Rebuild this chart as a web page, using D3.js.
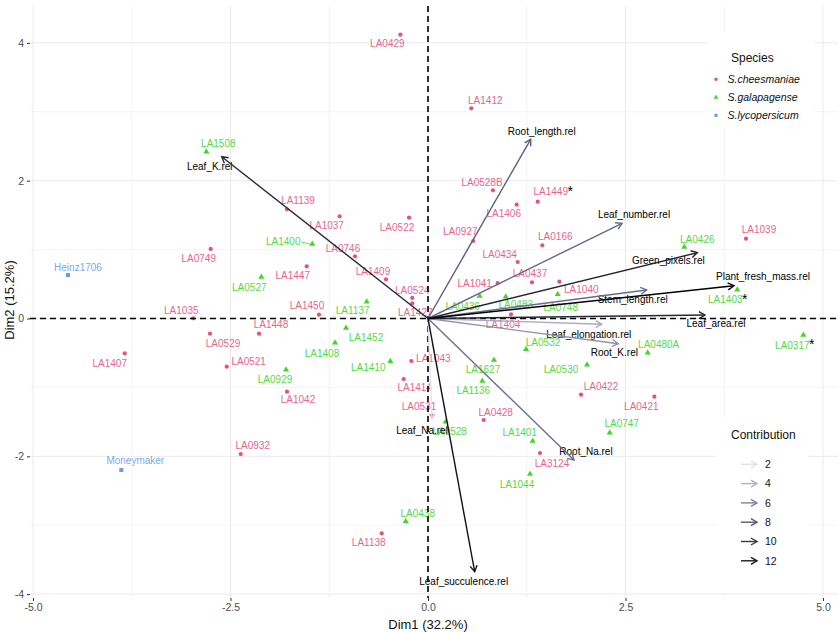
<!DOCTYPE html>
<html><head><meta charset="utf-8">
<script src="https://cdn.jsdelivr.net/npm/d3@7"></script>
<style>
html,body{margin:0;padding:0;background:#fff;}
svg text{font-family:"Liberation Sans",Arial,sans-serif;}
</style></head>
<body><svg id="chart" width="840" height="632"></svg>
<script>
// ---------- DATA ----------
const speciesNames = ["S.cheesmaniae","S.galapagense","S.lycopersicum"];
const xTicks = [-5, -2.5, 0, 2.5, 5];
const yTicks = [-4, -2, 0, 2, 4];
const xMinor = [-3.75, -1.25, 1.25, 3.75];
const yMinor = [-3, -1, 1, 3];
const contribBreaks = [2, 4, 6, 8, 10, 12];

const cheesNames = ["LA0429","LA1139","LA1037","LA0522","LA0749","LA0746","LA1447","LA1409","LA1450","LA1035","LA0524","LA1427","LA1412","LA0528B","LA1449","LA1406","LA0927","LA0166","LA0434","LA0437","LA1041","LA1040","LA1039","LA1404","LA0422","LA0421","LA0428","LA3124","LA0531","LA1414","LA1043","LA1407","LA0529","LA1448","LA0521","LA1042","LA0932","LA1138"];
const cheesDim1 = [-0.35,-1.785,-1.118,-0.24,-2.751,-0.924,-1.535,-0.532,-1.38,-2.971,-0.199,-0.199,0.548,0.823,1.389,1.123,0.573,1.447,1.135,1.316,0.882,1.662,4.025,1.051,1.937,2.865,0.705,1.418,0.051,-0.308,-0.211,-3.839,-2.759,-2.139,-2.548,-1.785,-2.371,-0.586];
const cheesDim2 = [4.12,1.585,1.483,1.463,1.009,0.903,0.758,0.569,0.055,0.003,0.298,0.221,3.051,1.861,1.695,1.652,1.125,1.062,0.82,0.525,0.515,0.534,1.158,0.061,-1.106,-1.135,-1.473,-1.952,-1.411,-0.878,-0.617,-0.505,-0.221,-0.221,-0.70,-1.062,-1.967,-3.118];

const galaNames = ["LA1508","LA1400","LA0527","LA1137","LA0426","LA1403","LA0436","LA0483","LA0748","LA0317","LA0480A","LA0532","LA0530","LA1627","LA1136","LA0747","LA1401","LA1044","LA0528","LA1410","LA0438","LA0929","LA1452","LA1408"];
const galaDim1 = [-2.806,-1.465,-2.11,-0.776,3.244,3.915,0.654,0.984,1.642,4.751,2.781,1.241,2.013,0.835,0.687,2.3,1.325,1.291,0.224,-0.477,-0.282,-1.797,-1.038,-1.177];
const galaDim2 = [2.421,1.081,0.602,0.244,1.038,0.418,0.327,0.316,0.351,-0.239,-0.496,-0.447,-0.671,-0.602,-0.907,-1.657,-1.778,-2.257,-1.498,-0.621,-2.943,-0.743,-0.138,-0.351];

const lycoNames = ["Heinz1706","Moneymaker"];
const lycoDim1 = [-4.557,-3.882];
const lycoDim2 = [0.631,-2.199];

const starred = ["LA1449","LA1403","LA0317"];

const varNames = ["Leaf_K.rel","Root_length.rel","Leaf_number.rel","Green_pixels.rel","Plant_fresh_mass.rel","Stem_length.rel","Leaf_area.rel","Leaf_elongation.rel","Root_K.rel","Root_Na.rel","Leaf_succulence.rel","Leaf_Na.rel"];
const varDim1 = [-2.611,1.3,2.456,3.409,3.873,2.768,3.506,2.199,2.409,1.848,0.591,0.051];
const varDim2 = [2.348,2.601,1.382,0.955,0.476,0.414,0.051,-0.084,-0.366,-2.054,-3.675,-1.463];
const varContrib = [11.1,7.6,7.15,11.3,13.7,7.05,11.1,4.36,5.35,6.88,12.5,1.93];

// ---------- LAYOUT (label placement, pixels relative to mark) ----------
const labelNudge = {
 LA0429:[-13,9],LA1139:[11,-9],LA1037:[-13,9],LA0522:[-12,10],LA0749:[-12,9],LA0746:[-12,-8],LA1447:[-14,9],LA1409:[-13,-8],LA1450:[-12,-9],LA1035:[-12,-8],LA0524:[0,-8],LA1427:[3,9],LA1412:[14,-8],LA0528B:[-11,-8],LA1449:[13,-10],LA1406:[-13,9],LA0927:[-13,-10],LA0166:[13,-9],LA0434:[-18,-8],LA0437:[-2,-9],LA1041:[-23,0],LA1040:[22,8],LA1039:[13,-9],LA1404:[-8,10],LA0422:[20,-8],LA0421:[-13,10],LA0428:[12,-8],LA3124:[12,10],LA0531:[-13,-9],LA1414:[11,8],LA1043:[22,-3],LA1407:[-15,10],LA0529:[13,10],LA1448:[12,-9],LA0521:[22,-5],LA1042:[11,8],LA0932:[12,-9],LA1138:[-13,9],
 LA1508:[12,-8],LA1400:[-29,-3],LA0527:[-12,10],LA1137:[-14,9],LA0426:[13,-8],LA1403:[-12,10],LA0436:[-17,10],LA0483:[10,8],LA0748:[3,13],LA0317:[-11,10],LA0480A:[11,-8],LA0532:[17,-7],LA0530:[-26,5],LA1627:[-11,9],LA1136:[-9,9],LA0747:[12,-9],LA1401:[-13,-9],LA1044:[-13,10],LA0528:[4,10],LA1410:[-22,6],LA0438:[12,-8],LA0929:[-11,10],LA1452:[20,9],LA1408:[-13,11],
 Heinz1706:[10,-8],Moneymaker:[14,-10]
};
const varNudge = {
 "Leaf_K.rel":[-12,10],"Root_length.rel":[11,-8],"Leaf_number.rel":[12,-9],"Green_pixels.rel":[-29,8],"Plant_fresh_mass.rel":[29,-9],"Stem_length.rel":[-14,9],"Leaf_area.rel":[11,8],"Leaf_elongation.rel":[-13,10],"Root_K.rel":[-4,9],"Root_Na.rel":[12,-9],"Leaf_succulence.rel":[-11,10],"Leaf_Na.rel":[-10,11]
};

// ---------- CHART ----------
const colors = {"S.cheesmaniae":"#E6527E","S.galapagense":"#42D62C","S.lycopersicum":"#6A9EEA"};
const svg = d3.select("#chart");
const P = {left:30, right:838, top:6, bottom:598};
const xS = d3.scaleLinear().domain([-5,5]).range([33,823]);
const yS = d3.scaleLinear().domain([-4,4]).range([594.1,42.9]);
const contribColor = d3.scaleLinear().domain([1.93,7.5,13.7]).range(["#E3E3EC","#5D6084","#000000"]).clamp(true);

// gridlines
const grid = svg.append("g");
xMinor.forEach(v=>grid.append("line").attr("x1",xS(v)).attr("x2",xS(v)).attr("y1",P.top).attr("y2",P.bottom).attr("stroke","#EFEFEF").attr("stroke-width",0.7));
yMinor.forEach(v=>grid.append("line").attr("y1",yS(v)).attr("y2",yS(v)).attr("x1",P.left).attr("x2",P.right).attr("stroke","#EFEFEF").attr("stroke-width",0.7));
xTicks.forEach(v=>grid.append("line").attr("x1",xS(v)).attr("x2",xS(v)).attr("y1",P.top).attr("y2",P.bottom).attr("stroke","#EAEAEA").attr("stroke-width",1));
yTicks.forEach(v=>grid.append("line").attr("y1",yS(v)).attr("y2",yS(v)).attr("x1",P.left).attr("x2",P.right).attr("stroke","#EAEAEA").attr("stroke-width",1));

// legend backgrounds (cover grid)
svg.append("rect").attr("x",708).attr("y",32).attr("width",106).attr("height",96).attr("fill","#fff");
svg.append("rect").attr("x",716).attr("y",418).attr("width",92).attr("height",175).attr("fill","#fff");

// axes
const xAxis = svg.append("g").attr("transform",`translate(0,${P.bottom})`)
  .call(d3.axisBottom(xS).tickValues(xTicks).tickFormat(d=>d.toFixed(1)).tickSize(3).tickPadding(3));
const yAxis = svg.append("g").attr("transform",`translate(${P.left},0)`)
  .call(d3.axisLeft(yS).tickValues(yTicks).tickFormat(d=>String(d)).tickSize(3).tickPadding(3));
[xAxis,yAxis].forEach(a=>{
  a.select(".domain").remove();
  a.selectAll(".tick line").attr("stroke","#333").attr("stroke-width",1);
  a.selectAll(".tick text").attr("fill","#4D4D4D").style("font-size","10.5px").style("font-family","Liberation Sans, Arial, sans-serif");
});
svg.append("text").attr("x",428).attr("y",629).attr("text-anchor","middle").style("font-size","13px").attr("fill","#111").text("Dim1 (32.2%)");
svg.append("text").attr("transform","translate(14,300) rotate(-90)").attr("text-anchor","middle").style("font-size","13px").attr("fill","#111").text("Dim2 (15.2%)");

// individuals
const groups = [
  {sp:"S.cheesmaniae", names:cheesNames, d1:cheesDim1, d2:cheesDim2, shape:d3.symbolCircle, size:14},
  {sp:"S.galapagense", names:galaNames, d1:galaDim1, d2:galaDim2, shape:d3.symbolTriangle, size:16},
  {sp:"S.lycopersicum", names:lycoNames, d1:lycoDim1, d2:lycoDim2, shape:d3.symbolSquare, size:16}
];
const ptsG = svg.append("g"), lblG = svg.append("g");
const labelRight = {};
groups.forEach(g=>{
  g.names.forEach((n,i)=>{
    const px = xS(g.d1[i]), py = yS(g.d2[i]);
    ptsG.append("path").attr("d",d3.symbol().type(g.shape).size(g.size)()).attr("transform",`translate(${px},${py})`).attr("fill",colors[g.sp]);
    const nd = labelNudge[n] || [0,-9];
    const t = lblG.append("text").attr("x",px+nd[0]).attr("y",py+nd[1]+3.6).attr("text-anchor","middle")
      .style("font-size","10px").attr("fill",colors[g.sp]).attr("fill-opacity",0.92).text(n);
    const w = t.node().getComputedTextLength();
    labelRight[n] = {x:px+nd[0]+w/2, y:py+nd[1]+3.6, px, py, w};
    if (n==="LA1400") {
      lblG.append("line").attr("x1",px+nd[0]+w/2+1).attr("y1",py+nd[1]+1).attr("x2",px-2).attr("y2",py).attr("stroke",colors[g.sp]).attr("stroke-width",0.8);
    }
  });
});

// variable labels (under arrows)
const varLblG = svg.append("g");
varNames.forEach((n,i)=>{
  const nd = varNudge[n];
  varLblG.append("text").attr("x",xS(varDim1[i])+nd[0]).attr("y",yS(varDim2[i])+nd[1]+3.6).attr("text-anchor","middle")
    .style("font-size","10px").attr("fill","#000").text(n);
});

// dashed reference lines
svg.append("line").attr("x1",P.left).attr("x2",P.right).attr("y1",yS(0)).attr("y2",yS(0)).attr("stroke","#000").attr("stroke-width",1.6).attr("stroke-dasharray","6,4");
svg.append("line").attr("y1",P.top).attr("y2",P.bottom).attr("x1",xS(0)).attr("x2",xS(0)).attr("stroke","#000").attr("stroke-width",1.6).attr("stroke-dasharray","6,4");

// arrows
function arrow(g, x0,y0,x1,y1,col,w){
  g.append("line").attr("x1",x0).attr("y1",y0).attr("x2",x1).attr("y2",y1).attr("stroke",col).attr("stroke-width",w);
  const a = Math.atan2(y1-y0,x1-x0), L=7, h=Math.PI/6;
  const p1=[x1-L*Math.cos(a-h), y1-L*Math.sin(a-h)], p2=[x1-L*Math.cos(a+h), y1-L*Math.sin(a+h)];
  g.append("path").attr("d",`M${p1[0]},${p1[1]}L${x1},${y1}L${p2[0]},${p2[1]}`).attr("fill","none").attr("stroke",col).attr("stroke-width",w).attr("stroke-linejoin","miter");
}
const arrG = svg.append("g");
const order = d3.range(varNames.length).sort((a,b)=>varContrib[a]-varContrib[b]);
order.forEach(i=>arrow(arrG, xS(0), yS(0), xS(varDim1[i]), yS(varDim2[i]), contribColor(varContrib[i]), 1.4));

// asterisks
starred.forEach(n=>{
  const r = labelRight[n];
  svg.append("text").attr("x",r.x-0.5).attr("y",r.y+0.5).style("font-size","14px").attr("fill","#000").text("*");
});

// species legend
const sl = svg.append("g");
sl.append("text").attr("x",731).attr("y",62).style("font-size","12px").attr("fill","#111").text("Species");
groups.forEach((g,i)=>{
  const y = 79.3 + i*18;
  sl.append("path").attr("d",d3.symbol().type(g.shape).size(10)()).attr("transform",`translate(716,${y})`).attr("fill",colors[g.sp]);
  sl.append("text").attr("x",727.5).attr("y",y+3.8).style("font-size","10.5px").style("font-style","italic").attr("fill","#111").text(g.sp);
});

// contribution legend
const cl = svg.append("g");
cl.append("text").attr("x",731).attr("y",439).style("font-size","12px").attr("fill","#111").text("Contribution");
contribBreaks.forEach((b,i)=>{
  const y = 464.3 + i*19.3;
  arrow(cl, 741, y, 757, y, contribColor(b), 1.4);
  cl.append("text").attr("x",765).attr("y",y+3.8).style("font-size","10.5px").attr("fill","#111").text(b);
});
</script>
</body></html>
